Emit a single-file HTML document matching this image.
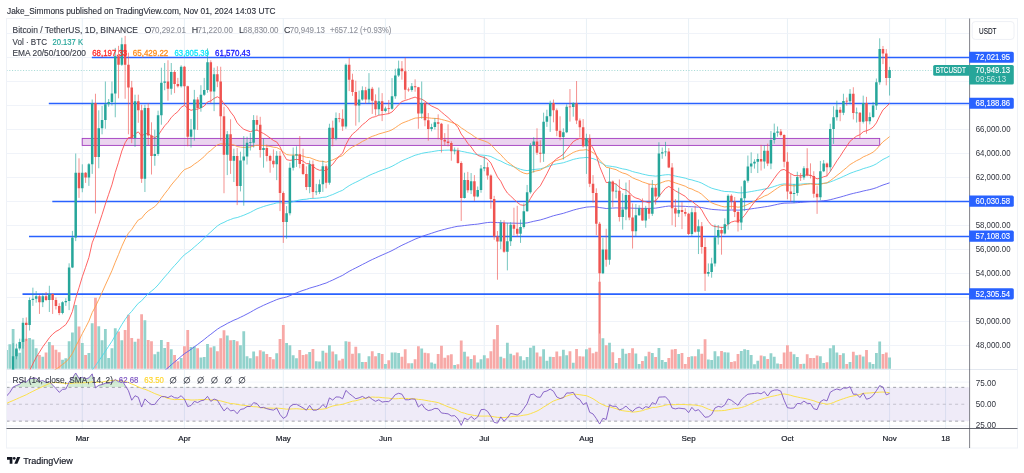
<!DOCTYPE html><html><head><meta charset="utf-8"><title>BTCUSDT</title>
<style>html,body{margin:0;padding:0;background:#fff;}svg{display:block;will-change:transform}text{font-family:"Liberation Sans",sans-serif;}</style></head><body>
<svg width="1024" height="473" viewBox="0 0 1024 473">
<rect x="0" y="0" width="1024" height="473" fill="#ffffff"/>
<defs><clipPath id="mp"><rect x="7.0" y="19.0" width="962.6" height="350.5"/></clipPath>
<clipPath id="rp"><rect x="7.0" y="370.0" width="962.6" height="58.5"/></clipPath>
<clipPath id="rtop"><rect x="0" y="0" width="1024" height="387.35"/></clipPath>
<linearGradient id="gg" x1="0" y1="0" x2="0" y2="1"><stop offset="0" stop-color="#4caf50" stop-opacity="0.30"/><stop offset="1" stop-color="#4caf50" stop-opacity="0.03"/></linearGradient>
</defs>
<rect x="6.5" y="18.5" width="1011.0" height="429.5" fill="#fff" stroke="#eff2f7" stroke-width="1"/>
<path d="M82.30 18.5V428.5M184.44 18.5V428.5M283.30 18.5V428.5M385.44 18.5V428.5M484.29 18.5V428.5M586.43 18.5V428.5M688.58 18.5V428.5M787.43 18.5V428.5M889.57 18.5V428.5M945.59 18.5V428.5" stroke="#e5eef5" stroke-width="0.9" fill="none"/>
<path d="M6.5 345.50H969.6M6.5 321.50H969.6M6.5 297.50H969.6M6.5 273.50H969.6M6.5 249.50H969.6M6.5 225.50H969.6M6.5 201.50H969.6M6.5 177.50H969.6M6.5 153.50H969.6M6.5 129.50H969.6M6.5 105.50H969.6M6.5 81.50H969.6M6.5 57.50H969.6M6.5 33.50H969.6M6.5 382.12H969.6M6.5 425.98H969.6" stroke="#eef2f8" stroke-width="0.9" fill="none"/>
<path d="M6.5 369.5H1017.5" stroke="#e3e8f0" stroke-width="1"/>
<g clip-path="url(#mp)">
<path d="M5.12 368.70h2.80V349.90h-2.80zM8.41 368.70h2.80V344.30h-2.80zM11.71 368.70h2.80V329.10h-2.80zM15.00 368.70h2.80V349.70h-2.80zM18.30 368.70h2.80V352.80h-2.80zM21.59 368.70h2.80V338.70h-2.80zM28.18 368.70h2.80V338.10h-2.80zM31.48 368.70h2.80V339.60h-2.80zM34.77 368.70h2.80V348.30h-2.80zM41.36 368.70h2.80V356.80h-2.80zM47.95 368.70h2.80V342.10h-2.80zM61.13 368.70h2.80V359.70h-2.80zM64.42 368.70h2.80V358.30h-2.80zM67.72 368.70h2.80V341.20h-2.80zM71.01 368.70h2.80V332.45h-2.80zM74.31 368.70h2.80V305.10h-2.80zM80.90 368.70h2.80V343.10h-2.80zM87.49 368.70h2.80V353.10h-2.80zM90.78 368.70h2.80V323.30h-2.80zM97.38 368.70h2.80V326.20h-2.80zM100.67 368.70h2.80V340.30h-2.80zM103.96 368.70h2.80V329.10h-2.80zM107.26 368.70h2.80V358.10h-2.80zM110.55 368.70h2.80V348.30h-2.80zM113.85 368.70h2.80V328.30h-2.80zM120.44 368.70h2.80V340.30h-2.80zM133.62 368.70h2.80V341.80h-2.80zM143.50 368.70h2.80V320.20h-2.80zM153.39 368.70h2.80V354.30h-2.80zM156.68 368.70h2.80V351.80h-2.80zM159.98 368.70h2.80V339.95h-2.80zM163.28 368.70h2.80V348.10h-2.80zM169.86 368.70h2.80V349.30h-2.80zM179.75 368.70h2.80V358.10h-2.80zM189.63 368.70h2.80V347.10h-2.80zM192.93 368.70h2.80V346.60h-2.80zM199.52 368.70h2.80V357.45h-2.80zM202.81 368.70h2.80V357.10h-2.80zM206.11 368.70h2.80V344.10h-2.80zM212.70 368.70h2.80V346.20h-2.80zM225.88 368.70h2.80V335.60h-2.80zM232.47 368.70h2.80V339.95h-2.80zM239.06 368.70h2.80V345.30h-2.80zM242.35 368.70h2.80V331.20h-2.80zM245.65 368.70h2.80V356.20h-2.80zM248.94 368.70h2.80V358.20h-2.80zM252.24 368.70h2.80V351.60h-2.80zM262.12 368.70h2.80V351.60h-2.80zM275.31 368.70h2.80V353.30h-2.80zM285.19 368.70h2.80V343.10h-2.80zM288.49 368.70h2.80V345.30h-2.80zM291.78 368.70h2.80V355.30h-2.80zM295.07 368.70h2.80V358.30h-2.80zM308.25 368.70h2.80V352.10h-2.80zM314.85 368.70h2.80V361.20h-2.80zM318.14 368.70h2.80V361.60h-2.80zM321.44 368.70h2.80V350.80h-2.80zM328.03 368.70h2.80V345.30h-2.80zM334.62 368.70h2.80V354.30h-2.80zM344.50 368.70h2.80V341.20h-2.80zM357.68 368.70h2.80V353.30h-2.80zM360.98 368.70h2.80V362.10h-2.80zM367.57 368.70h2.80V356.20h-2.80zM377.45 368.70h2.80V353.10h-2.80zM384.04 368.70h2.80V364.10h-2.80zM390.63 368.70h2.80V352.45h-2.80zM393.93 368.70h2.80V352.45h-2.80zM397.22 368.70h2.80V353.10h-2.80zM410.40 368.70h2.80V363.30h-2.80zM420.29 368.70h2.80V348.45h-2.80zM430.17 368.70h2.80V362.45h-2.80zM433.47 368.70h2.80V363.70h-2.80zM453.24 368.70h2.80V364.95h-2.80zM463.12 368.70h2.80V351.80h-2.80zM469.71 368.70h2.80V359.10h-2.80zM476.30 368.70h2.80V362.45h-2.80zM479.60 368.70h2.80V359.30h-2.80zM482.89 368.70h2.80V355.30h-2.80zM499.37 368.70h2.80V356.80h-2.80zM505.96 368.70h2.80V342.70h-2.80zM509.25 368.70h2.80V353.70h-2.80zM519.13 368.70h2.80V356.20h-2.80zM522.43 368.70h2.80V360.30h-2.80zM525.73 368.70h2.80V357.10h-2.80zM529.02 368.70h2.80V347.80h-2.80zM532.31 368.70h2.80V345.80h-2.80zM542.20 368.70h2.80V349.30h-2.80zM545.50 368.70h2.80V360.80h-2.80zM548.79 368.70h2.80V356.80h-2.80zM561.97 368.70h2.80V349.70h-2.80zM565.26 368.70h2.80V355.30h-2.80zM571.86 368.70h2.80V362.70h-2.80zM585.03 368.70h2.80V349.30h-2.80zM601.51 368.70h2.80V338.30h-2.80zM608.10 368.70h2.80V342.70h-2.80zM614.69 368.70h2.80V363.10h-2.80zM621.28 368.70h2.80V348.70h-2.80zM624.57 368.70h2.80V353.80h-2.80zM634.46 368.70h2.80V353.60h-2.80zM637.75 368.70h2.80V364.10h-2.80zM644.34 368.70h2.80V356.20h-2.80zM650.93 368.70h2.80V353.10h-2.80zM657.52 368.70h2.80V348.10h-2.80zM660.82 368.70h2.80V359.90h-2.80zM664.12 368.70h2.80V361.90h-2.80zM677.29 368.70h2.80V354.10h-2.80zM690.47 368.70h2.80V356.20h-2.80zM697.06 368.70h2.80V349.30h-2.80zM706.95 368.70h2.80V359.60h-2.80zM710.25 368.70h2.80V359.95h-2.80zM713.54 368.70h2.80V351.20h-2.80zM716.83 368.70h2.80V356.20h-2.80zM723.42 368.70h2.80V352.20h-2.80zM726.72 368.70h2.80V352.45h-2.80zM739.90 368.70h2.80V350.95h-2.80zM743.19 368.70h2.80V349.30h-2.80zM746.49 368.70h2.80V350.10h-2.80zM749.78 368.70h2.80V354.95h-2.80zM753.08 368.70h2.80V364.30h-2.80zM756.38 368.70h2.80V360.80h-2.80zM762.96 368.70h2.80V356.20h-2.80zM769.55 368.70h2.80V353.30h-2.80zM772.85 368.70h2.80V356.80h-2.80zM776.14 368.70h2.80V363.45h-2.80zM792.62 368.70h2.80V354.30h-2.80zM795.91 368.70h2.80V357.10h-2.80zM802.50 368.70h2.80V363.70h-2.80zM818.98 368.70h2.80V356.20h-2.80zM822.27 368.70h2.80V363.10h-2.80zM828.87 368.70h2.80V348.30h-2.80zM832.16 368.70h2.80V345.30h-2.80zM835.45 368.70h2.80V352.45h-2.80zM842.04 368.70h2.80V353.30h-2.80zM848.63 368.70h2.80V362.10h-2.80zM855.22 368.70h2.80V355.30h-2.80zM861.81 368.70h2.80V356.45h-2.80zM868.40 368.70h2.80V362.20h-2.80zM871.70 368.70h2.80V364.10h-2.80zM875.00 368.70h2.80V353.10h-2.80zM878.29 368.70h2.80V341.60h-2.80zM888.17 368.70h2.80V357.45h-2.80z" fill="#92d2cc"/>
<path d="M24.88 368.70h2.80V338.70h-2.80zM38.06 368.70h2.80V354.95h-2.80zM44.66 368.70h2.80V352.45h-2.80zM51.24 368.70h2.80V345.30h-2.80zM54.54 368.70h2.80V349.70h-2.80zM57.84 368.70h2.80V352.20h-2.80zM77.60 368.70h2.80V326.45h-2.80zM84.19 368.70h2.80V354.95h-2.80zM94.08 368.70h2.80V297.70h-2.80zM117.14 368.70h2.80V331.60h-2.80zM123.73 368.70h2.80V329.95h-2.80zM127.03 368.70h2.80V314.70h-2.80zM130.32 368.70h2.80V338.10h-2.80zM136.91 368.70h2.80V338.70h-2.80zM140.21 368.70h2.80V314.30h-2.80zM146.80 368.70h2.80V339.95h-2.80zM150.09 368.70h2.80V341.20h-2.80zM166.57 368.70h2.80V342.10h-2.80zM173.16 368.70h2.80V354.95h-2.80zM176.45 368.70h2.80V361.20h-2.80zM183.04 368.70h2.80V346.20h-2.80zM186.34 368.70h2.80V329.95h-2.80zM196.22 368.70h2.80V348.30h-2.80zM209.41 368.70h2.80V347.45h-2.80zM215.99 368.70h2.80V351.20h-2.80zM219.29 368.70h2.80V338.30h-2.80zM222.59 368.70h2.80V330.20h-2.80zM229.17 368.70h2.80V340.30h-2.80zM235.77 368.70h2.80V341.20h-2.80zM255.53 368.70h2.80V356.20h-2.80zM258.83 368.70h2.80V350.30h-2.80zM265.42 368.70h2.80V354.10h-2.80zM268.72 368.70h2.80V357.10h-2.80zM272.01 368.70h2.80V359.30h-2.80zM278.60 368.70h2.80V339.10h-2.80zM281.90 368.70h2.80V324.95h-2.80zM298.37 368.70h2.80V349.95h-2.80zM301.67 368.70h2.80V354.95h-2.80zM304.96 368.70h2.80V354.30h-2.80zM311.55 368.70h2.80V349.10h-2.80zM324.73 368.70h2.80V352.80h-2.80zM331.32 368.70h2.80V351.60h-2.80zM337.91 368.70h2.80V360.60h-2.80zM341.21 368.70h2.80V358.70h-2.80zM347.80 368.70h2.80V341.80h-2.80zM351.09 368.70h2.80V353.70h-2.80zM354.39 368.70h2.80V346.80h-2.80zM364.27 368.70h2.80V362.10h-2.80zM370.86 368.70h2.80V351.20h-2.80zM374.16 368.70h2.80V356.20h-2.80zM380.75 368.70h2.80V354.10h-2.80zM387.34 368.70h2.80V360.30h-2.80zM400.52 368.70h2.80V356.80h-2.80zM403.81 368.70h2.80V349.30h-2.80zM407.11 368.70h2.80V363.30h-2.80zM413.70 368.70h2.80V359.30h-2.80zM416.99 368.70h2.80V346.20h-2.80zM423.58 368.70h2.80V352.80h-2.80zM426.88 368.70h2.80V353.30h-2.80zM436.76 368.70h2.80V354.10h-2.80zM440.06 368.70h2.80V345.80h-2.80zM443.35 368.70h2.80V357.80h-2.80zM446.65 368.70h2.80V355.30h-2.80zM449.94 368.70h2.80V354.30h-2.80zM456.53 368.70h2.80V364.30h-2.80zM459.83 368.70h2.80V340.60h-2.80zM466.42 368.70h2.80V356.45h-2.80zM473.01 368.70h2.80V355.30h-2.80zM486.19 368.70h2.80V358.30h-2.80zM489.48 368.70h2.80V351.20h-2.80zM492.78 368.70h2.80V339.30h-2.80zM496.07 368.70h2.80V324.95h-2.80zM502.66 368.70h2.80V358.30h-2.80zM512.54 368.70h2.80V355.30h-2.80zM515.84 368.70h2.80V352.45h-2.80zM535.61 368.70h2.80V352.45h-2.80zM538.90 368.70h2.80V356.45h-2.80zM552.09 368.70h2.80V357.10h-2.80zM555.38 368.70h2.80V351.60h-2.80zM558.67 368.70h2.80V356.20h-2.80zM568.56 368.70h2.80V351.20h-2.80zM575.15 368.70h2.80V349.10h-2.80zM578.45 368.70h2.80V356.20h-2.80zM581.74 368.70h2.80V356.45h-2.80zM588.33 368.70h2.80V347.80h-2.80zM591.62 368.70h2.80V353.30h-2.80zM594.92 368.70h2.80V351.80h-2.80zM598.21 368.70h2.80V281.70h-2.80zM604.80 368.70h2.80V345.20h-2.80zM611.39 368.70h2.80V352.20h-2.80zM617.99 368.70h2.80V358.10h-2.80zM627.87 368.70h2.80V353.10h-2.80zM631.16 368.70h2.80V348.20h-2.80zM641.05 368.70h2.80V361.10h-2.80zM647.64 368.70h2.80V351.80h-2.80zM654.23 368.70h2.80V357.00h-2.80zM667.41 368.70h2.80V358.00h-2.80zM670.70 368.70h2.80V349.60h-2.80zM674.00 368.70h2.80V349.00h-2.80zM680.59 368.70h2.80V353.10h-2.80zM683.88 368.70h2.80V364.00h-2.80zM687.18 368.70h2.80V357.10h-2.80zM693.77 368.70h2.80V356.20h-2.80zM700.36 368.70h2.80V353.70h-2.80zM703.65 368.70h2.80V339.30h-2.80zM720.13 368.70h2.80V350.95h-2.80zM730.01 368.70h2.80V362.10h-2.80zM733.31 368.70h2.80V361.20h-2.80zM736.61 368.70h2.80V354.10h-2.80zM759.67 368.70h2.80V355.60h-2.80zM766.26 368.70h2.80V359.10h-2.80zM779.44 368.70h2.80V364.10h-2.80zM782.74 368.70h2.80V352.45h-2.80zM786.03 368.70h2.80V345.30h-2.80zM789.32 368.70h2.80V351.80h-2.80zM799.21 368.70h2.80V364.10h-2.80zM805.80 368.70h2.80V354.30h-2.80zM809.09 368.70h2.80V358.10h-2.80zM812.39 368.70h2.80V358.10h-2.80zM815.68 368.70h2.80V355.60h-2.80zM825.57 368.70h2.80V362.20h-2.80zM838.75 368.70h2.80V354.95h-2.80zM845.34 368.70h2.80V364.10h-2.80zM851.93 368.70h2.80V351.80h-2.80zM858.52 368.70h2.80V354.70h-2.80zM865.11 368.70h2.80V350.10h-2.80zM881.58 368.70h2.80V354.10h-2.80zM884.88 368.70h2.80V352.45h-2.80z" fill="#f7a9a7"/>
<path d="M6.5 70.4H969.6" stroke="#26a69a" stroke-width="0.8" stroke-dasharray="1.1 1.65" opacity="0.55"/>
<rect x="82.2" y="138.4" width="797.5" height="7.0" fill="#9c27b0" fill-opacity="0.2" stroke="#a23bbf" stroke-width="0.9"/>
<path d="M91.8 57.54H969.6" stroke="#2962ff" stroke-width="1.6"/>
<path d="M48.8 103.53H969.6" stroke="#2962ff" stroke-width="1.6"/>
<path d="M52.3 201.43H969.6" stroke="#2962ff" stroke-width="1.6"/>
<path d="M29.0 236.50H969.6" stroke="#2962ff" stroke-width="1.6"/>
<path d="M22.5 294.13H969.6" stroke="#2962ff" stroke-width="1.6"/>
<polyline points="6.52,483.76 9.81,482.70 13.11,481.45 16.40,480.12 19.70,478.75 22.99,477.19 26.28,475.68 29.58,473.93 32.88,472.19 36.17,470.44 39.46,468.77 42.76,467.05 46.05,465.39 49.35,463.68 52.64,462.05 55.94,460.50 59.23,459.03 62.53,457.47 65.82,455.91 69.12,454.04 72.41,451.89 75.71,449.11 79.00,446.51 82.30,443.79 85.59,441.14 88.89,438.38 92.19,435.05 95.48,432.28 98.78,429.26 102.07,426.18 105.36,422.98 108.66,419.78 111.95,416.53 115.25,412.95 118.54,409.48 121.84,405.85 125.13,402.46 128.43,399.32 131.72,396.72 135.02,393.78 138.31,390.96 141.61,388.85 144.91,386.05 148.20,383.56 151.50,381.30 154.79,379.03 158.08,376.41 161.38,373.49 164.68,370.58 167.97,367.78 171.26,364.83 174.56,362.04 177.85,359.30 181.15,356.38 184.44,353.70 187.74,351.54 191.03,349.33 194.33,346.84 197.62,344.46 200.92,341.98 204.21,339.47 207.51,336.71 210.81,334.27 214.10,331.69 217.39,329.20 220.69,327.08 223.99,325.36 227.28,323.46 230.57,321.84 233.87,320.19 237.17,318.86 240.46,317.28 243.75,315.68 247.05,313.96 250.34,312.25 253.64,310.34 256.94,308.49 260.23,306.91 263.52,305.33 266.82,303.85 270.12,302.42 273.41,301.05 276.70,299.60 280.00,298.54 283.30,297.78 286.59,296.94 289.88,295.65 293.18,294.26 296.47,292.87 299.77,291.58 303.06,290.41 306.36,289.38 309.65,288.14 312.95,287.18 316.25,286.23 319.54,285.22 322.83,284.04 326.13,283.03 329.43,281.48 332.72,280.06 336.01,278.45 339.31,276.86 342.61,275.36 345.90,273.27 349.19,271.34 352.49,269.56 355.79,267.93 359.08,266.25 362.38,264.50 365.67,262.86 368.97,261.12 372.26,259.53 375.56,258.03 378.85,256.47 382.14,255.03 385.44,253.57 388.74,252.13 392.03,250.58 395.32,248.84 398.62,247.04 401.92,245.29 405.21,243.75 408.50,242.22 411.80,240.66 415.10,239.14 418.39,237.89 421.69,236.55 424.98,235.39 428.27,234.33 431.57,233.26 434.87,232.16 438.16,231.08 441.45,230.17 444.75,229.29 448.05,228.43 451.34,227.66 454.63,226.89 457.93,226.26 461.23,225.98 464.52,225.52 467.81,225.17 471.11,224.73 474.41,224.45 477.70,224.11 481.00,223.55 484.29,222.99 487.58,222.52 490.88,222.29 494.18,222.43 497.47,222.62 500.76,222.62 504.06,222.91 507.36,223.09 510.65,223.11 513.94,223.16 517.24,223.27 520.53,223.31 523.83,223.19 527.12,222.88 530.42,222.10 533.71,221.30 537.01,220.62 540.30,219.95 543.60,218.98 546.89,217.96 550.19,216.81 553.49,215.75 556.78,214.91 560.07,214.13 563.37,213.32 566.66,212.26 569.96,211.21 573.25,210.13 576.55,209.24 579.85,208.43 583.14,207.81 586.43,207.11 589.73,206.88 593.02,206.74 596.32,206.91 599.61,207.57 602.91,207.99 606.20,208.51 609.50,208.24 612.79,208.07 616.09,207.90 619.38,207.99 622.68,208.00 625.97,207.87 629.27,207.97 632.56,208.20 635.86,208.27 639.15,208.27 642.45,208.39 645.74,208.39 649.04,208.45 652.33,208.24 655.63,208.12 658.92,207.58 662.22,207.03 665.51,206.48 668.81,206.09 672.10,206.11 675.40,206.19 678.69,206.22 681.99,206.28 685.28,206.36 688.58,206.63 691.87,206.69 695.17,206.94 698.46,207.13 701.76,207.53 705.05,208.19 708.35,208.82 711.64,209.37 714.94,209.64 718.23,209.84 721.53,210.08 724.82,210.22 728.12,210.08 731.41,209.99 734.71,210.01 738.00,210.14 741.30,210.02 744.59,209.73 747.89,209.30 751.18,208.84 754.48,208.37 757.77,207.88 761.07,207.42 764.36,206.86 767.66,206.43 770.95,205.77 774.25,205.04 777.54,204.31 780.84,203.62 784.13,203.20 787.43,203.08 790.72,202.99 794.02,202.89 797.31,202.64 800.61,202.39 803.90,202.04 807.20,201.78 810.49,201.52 813.79,201.45 817.08,201.41 820.38,201.11 823.67,200.73 826.97,200.40 830.26,199.69 833.56,198.87 836.85,197.98 840.15,197.13 843.44,196.18 846.74,195.23 850.03,194.22 853.33,193.41 856.62,192.61 859.92,191.91 863.21,191.02 866.51,190.33 869.80,189.60 873.10,188.76 876.39,187.70 879.69,186.32 882.98,185.00 886.28,183.94 889.57,182.80" fill="none" stroke="#5b5bf0" stroke-width="0.9" stroke-linejoin="round"/>
<polyline points="6.52,440.48 9.81,439.24 13.11,437.60 16.40,435.83 19.70,433.97 22.99,431.77 26.28,429.66 29.58,427.09 32.88,424.54 36.17,422.01 39.46,419.64 42.76,417.19 46.05,414.87 49.35,412.47 52.64,410.25 55.94,408.18 59.23,406.30 62.53,404.24 65.82,402.19 69.12,399.53 72.41,396.32 75.71,391.89 79.00,387.86 82.30,383.60 85.59,379.52 88.89,375.26 92.19,369.87 95.48,365.65 98.78,360.95 102.07,356.18 105.36,351.19 108.66,346.26 111.95,341.25 115.25,335.61 118.54,330.24 121.84,324.58 125.13,319.44 128.43,314.84 131.72,311.34 135.02,307.18 138.31,303.28 141.61,300.81 144.91,296.99 148.20,293.80 151.50,291.07 154.79,288.35 158.08,284.93 161.38,280.92 164.68,276.97 167.97,273.25 171.26,269.26 174.56,265.59 177.85,262.04 181.15,258.17 184.44,254.77 187.74,252.43 191.03,249.99 194.33,247.01 197.62,244.26 200.92,241.30 204.21,238.30 207.51,234.82 210.81,231.98 214.10,228.85 217.39,225.94 220.69,223.77 223.99,222.40 227.28,220.65 230.57,219.47 233.87,218.21 237.17,217.57 240.46,216.44 243.75,215.25 247.05,213.81 250.34,212.40 253.64,210.57 256.94,208.87 260.23,207.70 263.52,206.52 266.82,205.52 270.12,204.63 273.41,203.83 276.70,202.88 280.00,202.69 283.30,203.07 286.59,203.27 289.88,202.57 293.18,201.63 296.47,200.70 299.77,199.97 303.06,199.45 306.36,199.21 309.65,198.52 312.95,198.38 316.25,198.26 319.54,197.98 322.83,197.35 326.13,197.06 329.43,195.69 332.72,194.56 336.01,193.05 339.31,191.57 342.61,190.29 345.90,187.80 349.19,185.66 352.49,183.80 355.79,182.25 359.08,180.62 362.38,178.83 365.67,177.25 368.97,175.50 372.26,174.02 375.56,172.74 378.85,171.32 382.14,170.13 385.44,168.91 388.74,167.72 392.03,166.31 395.32,164.51 398.62,162.61 401.92,160.80 405.21,159.40 408.50,158.02 411.80,156.60 415.10,155.22 418.39,154.40 421.69,153.38 424.98,152.73 428.27,152.26 431.57,151.76 434.87,151.18 438.16,150.63 441.45,150.42 444.75,150.24 448.05,150.10 451.34,150.12 454.63,150.13 457.93,150.38 461.23,151.32 464.52,151.89 467.81,152.65 471.11,153.22 474.41,154.07 477.70,154.78 481.00,155.05 484.29,155.30 487.58,155.70 490.88,156.56 494.18,158.14 497.47,159.79 500.76,161.04 504.06,162.83 507.36,164.38 510.65,165.58 513.94,166.83 517.24,168.16 520.53,169.32 523.83,170.15 527.12,170.59 530.42,170.08 533.71,169.52 537.01,169.18 540.30,168.88 543.60,167.95 546.89,166.92 550.19,165.66 553.49,164.56 556.78,163.89 560.07,163.36 563.37,162.74 566.66,161.63 569.96,160.55 573.25,159.42 576.55,158.65 579.85,158.02 583.14,157.79 586.43,157.40 589.73,157.92 593.02,158.62 596.32,159.91 599.61,162.15 602.91,163.88 606.20,165.78 609.50,166.09 612.79,166.59 616.09,167.07 619.38,168.06 622.68,168.88 625.97,169.40 629.27,170.35 632.56,171.56 635.86,172.43 639.15,173.14 642.45,174.07 645.74,174.75 649.04,175.52 652.33,175.77 655.63,176.18 658.92,175.73 662.22,175.26 665.51,174.79 668.81,174.65 672.10,175.31 675.40,176.07 678.69,176.74 681.99,177.44 685.28,178.16 688.58,179.27 691.87,179.92 695.17,180.95 698.46,181.85 701.76,183.14 705.05,184.93 708.35,186.66 711.64,188.18 714.94,189.15 718.23,189.96 721.53,190.82 724.82,191.48 728.12,191.57 731.41,191.76 734.71,192.16 738.00,192.77 741.30,192.88 744.59,192.64 747.89,192.12 751.18,191.55 754.48,190.96 757.77,190.33 761.07,189.76 764.36,188.99 767.66,188.48 770.95,187.52 774.25,186.44 777.54,185.35 780.84,184.35 784.13,183.91 787.43,184.05 790.72,184.25 794.02,184.42 797.31,184.28 800.61,184.14 803.90,183.82 807.20,183.66 810.49,183.51 813.79,183.71 817.08,183.98 820.38,183.73 823.67,183.33 826.97,183.01 830.26,181.94 833.56,180.66 836.85,179.26 840.15,177.94 843.44,176.41 846.74,174.93 850.03,173.32 853.33,172.13 856.62,170.95 859.92,169.98 863.21,168.65 866.51,167.71 869.80,166.71 873.10,165.50 876.39,163.85 879.69,161.58 882.98,159.44 886.28,157.82 889.57,156.09" fill="none" stroke="#4dd9ea" stroke-width="0.9" stroke-linejoin="round"/>
<polyline points="6.52,414.46 9.81,413.02 13.11,410.80 16.40,408.36 19.70,405.75 22.99,402.49 26.28,399.46 29.58,395.55 32.88,391.76 36.17,388.01 39.46,384.65 42.76,381.19 46.05,378.00 49.35,374.70 52.64,371.77 55.94,369.18 59.23,366.99 62.53,364.45 65.82,361.96 69.12,358.26 72.41,353.52 75.71,346.43 79.00,340.23 82.30,333.66 85.59,327.54 88.89,321.14 92.19,312.59 95.48,306.49 98.78,299.50 102.07,292.46 105.36,285.08 108.66,277.90 111.95,270.66 115.25,262.26 118.54,254.51 121.84,246.27 125.13,239.15 128.43,233.20 131.72,229.46 135.02,224.44 138.31,219.96 141.61,218.34 144.91,214.01 148.20,210.93 151.50,208.77 154.79,206.63 158.08,203.05 161.38,198.33 164.68,193.75 167.97,189.63 171.26,185.01 174.56,181.05 177.85,177.33 181.15,172.99 184.44,169.60 187.74,168.31 191.03,166.78 194.33,164.14 197.62,161.94 200.92,159.30 204.21,156.58 207.51,152.88 210.81,150.47 214.10,147.49 217.39,144.90 220.69,143.78 223.99,144.21 227.28,143.82 230.57,144.48 233.87,144.93 237.17,146.53 240.46,147.08 243.75,147.45 247.05,147.26 250.34,147.08 253.64,146.01 256.94,145.18 260.23,145.36 263.52,145.47 266.82,145.88 270.12,146.46 273.41,147.16 276.70,147.50 280.00,149.29 283.30,152.13 286.59,154.53 289.88,155.05 293.18,155.07 296.47,155.03 299.77,155.38 303.06,156.11 306.36,157.32 309.65,157.60 312.95,158.94 316.25,160.23 319.54,161.18 322.83,161.38 326.13,162.21 329.43,160.86 332.72,159.99 336.01,158.35 339.31,156.79 342.61,155.61 345.90,152.04 349.19,149.20 352.49,146.96 355.79,145.34 359.08,143.54 362.38,141.45 365.67,139.81 368.97,137.80 372.26,136.35 375.56,135.29 378.85,133.95 382.14,133.05 385.44,132.09 388.74,131.18 392.03,129.81 395.32,127.69 398.62,125.37 401.92,123.25 405.21,121.93 408.50,120.68 411.80,119.33 415.10,118.07 418.39,117.89 421.69,117.31 424.98,117.43 428.27,117.88 431.57,118.24 434.87,118.40 438.16,118.61 441.45,119.44 444.75,120.30 448.05,121.20 451.34,122.37 454.63,123.48 457.93,125.03 461.23,127.89 464.52,129.93 467.81,132.29 471.11,134.21 474.41,136.65 477.70,138.74 481.00,139.91 484.29,140.98 487.58,142.34 490.88,144.56 494.18,148.16 497.47,151.83 500.76,154.61 504.06,158.41 507.36,161.66 510.65,164.13 513.94,166.67 517.24,169.30 520.53,171.57 523.83,173.12 527.12,173.87 530.42,172.74 533.71,171.51 537.01,170.78 540.30,170.11 543.60,168.22 546.89,166.18 550.19,163.71 553.49,161.61 556.78,160.40 560.07,159.48 563.37,158.41 566.66,156.39 569.96,154.45 573.25,152.44 576.55,151.19 579.85,150.25 583.14,150.09 586.43,149.62 589.73,150.96 593.02,152.61 596.32,155.40 599.61,160.02 602.91,163.53 606.20,167.30 609.50,167.86 612.79,168.79 616.09,169.65 619.38,171.51 622.68,173.00 625.97,173.86 629.27,175.57 632.56,177.76 635.86,179.23 639.15,180.37 642.45,181.94 645.74,182.98 649.04,184.18 652.33,184.32 655.63,184.80 658.92,183.57 662.22,182.34 665.51,181.13 668.81,180.60 672.10,181.69 675.40,182.93 678.69,183.99 681.99,185.09 685.28,186.22 688.58,188.10 691.87,189.04 695.17,190.72 698.46,192.12 701.76,194.27 705.05,197.39 708.35,200.32 711.64,202.79 714.94,204.14 718.23,205.16 721.53,206.26 724.82,206.97 728.12,206.53 731.41,206.33 734.71,206.56 738.00,207.19 741.30,206.84 744.59,205.81 747.89,204.27 751.18,202.68 754.48,201.07 757.77,199.42 761.07,197.94 764.36,196.09 767.66,194.81 770.95,192.66 774.25,190.31 777.54,188.00 780.84,185.92 784.13,184.98 787.43,185.23 790.72,185.57 794.02,185.87 797.31,185.51 800.61,185.20 803.90,184.53 807.20,184.17 810.49,183.85 813.79,184.24 817.08,184.75 820.38,184.23 823.67,183.42 826.97,182.78 830.26,180.68 833.56,178.19 836.85,175.50 840.15,173.04 843.44,170.21 846.74,167.51 850.03,164.62 853.33,162.60 856.62,160.64 859.92,159.12 863.21,156.92 866.51,155.52 869.80,154.01 873.10,152.11 876.39,149.37 879.69,145.43 882.98,141.83 886.28,139.33 889.57,136.61" fill="none" stroke="#ff9d45" stroke-width="0.9" stroke-linejoin="round"/>
<polyline points="6.52,407.60 9.81,404.77 13.11,400.15 16.40,395.23 19.70,390.15 22.99,383.73 26.28,378.15 29.58,370.69 32.88,363.84 36.17,357.41 39.46,352.16 42.76,346.84 46.05,342.37 49.35,337.75 52.64,334.15 55.94,331.46 59.23,329.71 62.53,327.10 65.82,324.62 69.12,319.18 72.41,311.40 75.71,298.19 79.00,287.73 82.30,276.77 85.59,267.32 88.89,257.51 92.19,242.80 95.48,234.64 98.78,224.51 102.07,214.55 105.36,204.05 108.66,194.32 111.95,184.72 115.25,172.49 118.54,162.22 121.84,150.99 125.13,142.77 128.43,137.51 131.72,137.55 135.02,134.09 138.31,131.83 141.61,136.29 144.91,133.59 148.20,133.77 151.50,135.88 154.79,137.61 158.08,135.49 161.38,130.46 164.68,125.80 167.97,122.27 171.26,117.47 174.56,114.27 177.85,111.61 181.15,107.34 184.44,105.33 187.74,108.32 191.03,110.34 194.33,109.31 197.62,109.17 200.92,107.79 204.21,106.09 207.51,101.92 210.81,100.92 214.10,98.39 217.39,96.78 220.69,98.64 223.99,103.98 227.28,106.87 230.57,111.99 233.87,116.17 237.17,122.81 240.46,126.40 243.75,129.26 247.05,130.54 250.34,131.69 253.64,130.57 256.94,130.01 260.23,131.91 263.52,133.45 266.82,135.59 270.12,137.98 273.41,140.48 276.70,141.94 280.00,146.81 283.30,153.96 286.59,159.61 289.88,160.38 293.18,159.92 296.47,159.38 299.77,159.81 303.06,161.15 306.36,163.62 309.65,163.69 312.95,166.37 316.25,168.81 319.54,170.27 322.83,169.90 326.13,171.11 329.43,166.98 332.72,164.29 336.01,159.89 339.31,155.97 342.61,153.16 345.90,144.74 349.19,138.54 352.49,134.10 355.79,131.39 359.08,128.35 362.38,124.73 365.67,122.32 368.97,119.12 372.26,117.37 375.56,116.60 378.85,115.15 382.14,114.75 385.44,114.16 388.74,113.65 392.03,112.00 395.32,108.53 398.62,104.72 401.92,101.54 405.21,100.42 408.50,99.42 411.80,98.17 415.10,97.12 418.39,98.68 421.69,99.10 424.98,101.12 428.27,103.78 431.57,106.00 434.87,107.55 438.16,109.09 441.45,112.01 444.75,114.82 448.05,117.51 451.34,120.72 454.63,123.55 457.93,127.32 461.23,134.04 464.52,138.41 467.81,143.34 471.11,146.95 474.41,151.67 477.70,155.31 481.00,156.57 484.29,157.59 487.58,159.31 490.88,163.08 494.18,170.07 497.47,176.88 500.76,181.25 504.06,187.95 507.36,193.03 510.65,196.04 513.94,199.16 517.24,202.46 520.53,204.80 523.83,205.41 527.12,204.15 530.42,198.53 533.71,193.10 537.01,189.26 540.30,185.87 543.60,179.77 546.89,173.73 550.19,167.00 553.49,161.60 556.78,158.66 560.07,156.59 563.37,154.27 566.66,149.74 569.96,145.68 573.25,141.63 576.55,139.61 579.85,138.43 583.14,139.18 586.43,139.08 589.73,143.33 593.02,148.07 596.32,155.28 599.61,166.51 602.91,174.42 606.20,182.54 609.50,182.44 612.79,183.30 616.09,184.01 619.38,187.16 622.68,189.29 625.97,189.84 629.27,192.47 632.56,196.16 635.86,197.98 639.15,198.97 642.45,201.02 645.74,201.71 649.04,202.86 652.33,201.42 655.63,200.94 658.92,196.43 662.22,192.22 665.51,188.34 668.81,186.36 672.10,188.45 675.40,190.84 678.69,192.65 681.99,194.50 685.28,196.35 688.58,199.93 691.87,201.11 695.17,204.03 698.46,206.15 701.76,210.05 705.05,216.12 708.35,221.45 711.64,225.44 714.94,226.56 718.23,226.89 721.53,227.51 724.82,227.21 728.12,224.21 731.41,222.05 734.71,221.10 738.00,221.24 741.30,219.05 744.59,215.40 747.89,210.74 751.18,206.25 754.48,202.02 757.77,197.92 761.07,194.46 764.36,190.29 767.66,187.75 770.95,183.20 774.25,178.39 777.54,173.93 780.84,170.21 784.13,169.41 787.43,171.50 790.72,173.64 794.02,175.49 797.31,175.63 800.61,175.81 803.90,175.08 807.20,175.10 810.49,175.19 813.79,176.97 817.08,178.90 820.38,178.18 823.67,176.79 826.97,175.88 830.26,171.42 833.56,166.26 836.85,160.87 840.15,156.29 843.44,151.02 846.74,146.28 850.03,141.28 853.33,138.59 856.62,136.12 859.92,134.76 863.21,131.75 866.51,130.74 869.80,129.43 873.10,127.16 876.39,122.88 879.69,115.85 882.98,109.92 886.28,106.88 889.57,103.38" fill="none" stroke="#ff5252" stroke-width="0.9" stroke-linejoin="round"/>
<path d="M6.52 388.70V407.90M9.81 374.30V389.90M13.11 343.10V377.90M16.40 343.70V359.30M19.70 338.66V350.54M22.99 317.90V348.62M29.58 297.50V330.50M32.88 287.66V305.90M36.17 291.02V302.66M42.76 293.30V307.10M49.35 285.74V312.02M62.53 301.34V314.30M65.82 298.22V305.90M69.12 263.30V310.10M72.41 230.90V268.10M75.71 153.50V241.10M82.30 164.30V192.26M88.89 163.10V185.90M92.19 99.50V173.90M98.78 110.30V168.26M102.07 105.98V134.30M105.36 81.50V128.78M108.66 99.02V106.70M111.95 81.50V105.50M115.25 47.90V117.26M121.84 37.70V65.90M135.02 94.70V146.90M144.91 104.78V192.02M154.79 129.74V165.74M158.08 110.66V155.90M161.38 67.70V124.70M164.68 63.02V90.26M171.26 63.02V94.70M181.15 65.30V87.50M191.03 118.94V147.50M194.33 89.90V140.66M200.92 85.22V111.74M204.21 77.90V95.90M207.51 48.38V92.78M214.10 67.70V111.14M227.28 131.06V175.10M233.87 148.70V182.06M240.46 151.70V191.42M243.75 136.10V205.70M247.05 136.70V164.54M250.34 133.10V150.50M253.64 115.10V147.50M263.52 138.62V167.66M276.70 151.10V180.14M286.59 206.06V238.70M289.88 162.62V215.42M293.18 147.50V170.54M296.47 146.30V166.94M309.65 160.46V193.22M316.25 183.86V195.14M319.54 179.54V193.94M322.83 160.70V191.90M329.43 123.74V184.70M336.01 112.46V140.30M345.90 63.50V128.78M359.08 90.62V122.30M362.38 86.30V100.70M368.97 73.10V103.10M378.85 87.50V115.10M385.44 106.70V112.22M392.03 78.14V109.70M395.32 68.78V98.78M398.62 60.62V76.94M411.80 83.06V91.70M421.69 81.50V118.70M431.57 123.74V131.30M434.87 118.10V129.50M454.63 147.50V154.34M464.52 172.70V198.50M471.11 173.06V194.06M477.70 186.50V197.30M481.00 165.02V192.74M484.29 156.26V171.26M500.76 219.98V249.14M507.36 222.74V270.38M510.65 222.14V246.02M520.53 219.50V242.90M523.83 203.42V228.50M527.12 184.94V211.70M530.42 143.06V193.70M533.71 137.30V172.70M543.60 112.70V161.90M546.89 109.70V126.86M550.19 100.70V131.90M563.37 128.30V159.50M566.66 104.30V133.10M573.25 102.26V116.66M586.43 133.70V173.90M602.91 237.74V274.10M609.50 168.14V264.74M616.09 183.74V198.38M622.68 193.34V229.58M625.97 182.54V220.22M635.86 204.02V235.94M639.15 205.22V215.90M645.74 205.82V227.78M652.33 180.02V215.90M658.92 142.22V197.30M662.22 147.50V158.78M665.51 141.86V156.26M678.69 187.70V217.10M691.87 208.22V235.94M698.46 219.50V254.06M708.35 263.42V276.50M711.64 257.78V277.70M714.94 224.54V266.54M718.23 225.02V244.58M724.82 218.30V234.50M728.12 194.30V229.70M741.30 186.38V230.06M744.59 179.90V211.10M747.89 155.54V182.66M751.18 152.30V173.06M754.48 159.26V168.62M757.77 153.62V173.06M764.36 145.46V168.62M770.95 131.06V169.22M774.25 123.62V143.66M777.54 126.50V136.70M794.02 183.86V203.06M797.31 171.74V195.74M803.90 166.22V179.78M820.38 160.94V200.30M823.67 160.10V172.10M830.26 123.74V171.50M833.56 106.22V143.90M836.85 100.70V120.62M843.44 93.74V115.10M850.03 89.06V104.30M856.62 107.54V122.54M863.21 95.66V123.50M869.80 112.46V124.34M873.10 101.90V118.10M876.39 78.50V109.94M879.69 38.30V84.74M889.57 66.86V95.54" stroke="#26a69a" stroke-width="0.75" fill="none" opacity="0.85"/>
<path d="M5.27 389.90h2.50V404.30h-2.50zM8.56 377.90h2.50V389.90h-2.50zM11.86 356.30h2.50V377.90h-2.50zM15.15 348.50h2.50V356.30h-2.50zM18.45 341.90h2.50V348.50h-2.50zM21.74 322.70h2.50V341.90h-2.50zM28.33 299.90h2.50V325.10h-2.50zM31.62 298.70h2.50V299.90h-2.50zM34.92 296.30h2.50V298.70h-2.50zM41.51 296.30h2.50V302.30h-2.50zM48.10 293.90h2.50V299.90h-2.50zM61.28 302.30h2.50V313.10h-2.50zM64.57 301.10h2.50V302.30h-2.50zM67.87 267.50h2.50V301.10h-2.50zM71.16 237.50h2.50V267.50h-2.50zM74.46 172.70h2.50V237.50h-2.50zM81.05 172.70h2.50V188.30h-2.50zM87.64 164.30h2.50V177.50h-2.50zM90.94 103.10h2.50V164.30h-2.50zM97.53 128.30h2.50V157.10h-2.50zM100.82 119.90h2.50V128.30h-2.50zM104.11 104.30h2.50V119.90h-2.50zM107.41 101.90h2.50V104.30h-2.50zM110.70 93.50h2.50V101.90h-2.50zM114.00 56.30h2.50V93.50h-2.50zM120.59 44.30h2.50V64.70h-2.50zM133.77 101.30h2.50V137.90h-2.50zM143.66 107.90h2.50V178.70h-2.50zM153.54 154.10h2.50V155.90h-2.50zM156.83 115.34h2.50V154.10h-2.50zM160.13 82.70h2.50V115.34h-2.50zM163.43 81.50h2.50V82.70h-2.50zM170.01 71.90h2.50V88.70h-2.50zM179.90 66.74h2.50V86.30h-2.50zM189.78 129.50h2.50V136.70h-2.50zM193.08 99.50h2.50V129.50h-2.50zM199.67 94.70h2.50V107.90h-2.50zM202.96 89.90h2.50V94.70h-2.50zM206.26 62.30h2.50V89.90h-2.50zM212.85 74.30h2.50V91.46h-2.50zM226.03 134.30h2.50V154.70h-2.50zM232.62 155.90h2.50V160.70h-2.50zM239.21 160.46h2.50V185.90h-2.50zM242.50 156.38h2.50V160.46h-2.50zM245.80 142.70h2.50V156.38h-2.50zM249.09 142.30h2.50V143.10h-2.50zM252.39 119.90h2.50V142.70h-2.50zM262.27 148.10h2.50V149.90h-2.50zM275.45 155.78h2.50V164.30h-2.50zM285.34 213.26h2.50V221.90h-2.50zM288.63 167.66h2.50V213.26h-2.50zM291.93 155.54h2.50V167.66h-2.50zM295.22 154.22h2.50V155.54h-2.50zM308.40 164.30h2.50V187.10h-2.50zM315.00 191.50h2.50V192.30h-2.50zM318.29 184.22h2.50V191.90h-2.50zM321.58 166.34h2.50V184.22h-2.50zM328.18 127.70h2.50V182.66h-2.50zM334.76 118.10h2.50V138.74h-2.50zM344.65 64.70h2.50V126.50h-2.50zM357.83 99.50h2.50V105.62h-2.50zM361.12 90.26h2.50V99.50h-2.50zM367.72 88.70h2.50V99.50h-2.50zM377.60 101.30h2.50V109.34h-2.50zM384.19 108.50h2.50V111.02h-2.50zM390.78 96.26h2.50V108.86h-2.50zM394.07 75.62h2.50V96.26h-2.50zM397.37 68.54h2.50V75.62h-2.50zM410.55 86.30h2.50V89.90h-2.50zM420.44 103.10h2.50V113.54h-2.50zM430.32 127.10h2.50V129.02h-2.50zM433.62 122.30h2.50V127.10h-2.50zM453.38 150.46h2.50V151.26h-2.50zM463.27 179.90h2.50V197.90h-2.50zM469.86 181.22h2.50V190.22h-2.50zM476.45 189.98h2.50V196.46h-2.50zM479.75 168.50h2.50V189.98h-2.50zM483.04 167.30h2.50V168.50h-2.50zM499.51 222.74h2.50V241.58h-2.50zM506.11 241.22h2.50V251.66h-2.50zM509.40 224.66h2.50V241.22h-2.50zM519.28 227.06h2.50V233.78h-2.50zM522.58 211.22h2.50V227.06h-2.50zM525.88 192.14h2.50V211.22h-2.50zM529.17 145.10h2.50V192.14h-2.50zM532.46 141.50h2.50V145.10h-2.50zM542.35 121.82h2.50V153.74h-2.50zM545.64 116.30h2.50V121.82h-2.50zM548.94 103.10h2.50V116.30h-2.50zM562.12 132.26h2.50V136.94h-2.50zM565.41 106.70h2.50V132.26h-2.50zM572.00 103.22h2.50V107.06h-2.50zM585.18 138.14h2.50V146.30h-2.50zM601.66 249.50h2.50V273.26h-2.50zM608.25 181.46h2.50V259.70h-2.50zM614.84 190.70h2.50V191.54h-2.50zM621.43 209.54h2.50V217.10h-2.50zM624.72 195.02h2.50V209.54h-2.50zM634.61 215.30h2.50V231.26h-2.50zM637.90 208.34h2.50V215.30h-2.50zM644.49 208.34h2.50V220.46h-2.50zM651.08 187.70h2.50V213.74h-2.50zM657.67 153.50h2.50V196.46h-2.50zM660.97 152.30h2.50V153.50h-2.50zM664.26 151.46h2.50V152.30h-2.50zM677.44 209.90h2.50V213.50h-2.50zM690.62 212.30h2.50V234.02h-2.50zM697.21 226.34h2.50V231.74h-2.50zM707.10 272.06h2.50V273.74h-2.50zM710.39 263.42h2.50V272.06h-2.50zM713.69 237.14h2.50V263.42h-2.50zM716.98 230.06h2.50V237.14h-2.50zM723.57 224.30h2.50V233.42h-2.50zM726.87 195.74h2.50V224.30h-2.50zM740.05 198.26h2.50V222.62h-2.50zM743.34 180.74h2.50V198.26h-2.50zM746.64 166.46h2.50V180.74h-2.50zM749.93 163.58h2.50V166.46h-2.50zM753.23 161.78h2.50V163.58h-2.50zM756.52 159.02h2.50V161.78h-2.50zM763.11 150.74h2.50V161.54h-2.50zM769.70 139.94h2.50V163.58h-2.50zM773.00 132.74h2.50V139.94h-2.50zM776.29 131.54h2.50V132.74h-2.50zM792.77 193.10h2.50V193.94h-2.50zM796.06 176.90h2.50V193.10h-2.50zM802.65 168.14h2.50V177.50h-2.50zM819.13 171.26h2.50V197.30h-2.50zM822.42 163.58h2.50V171.26h-2.50zM829.01 129.02h2.50V167.30h-2.50zM832.31 117.26h2.50V129.02h-2.50zM835.60 109.70h2.50V117.26h-2.50zM842.19 100.94h2.50V112.70h-2.50zM848.78 93.74h2.50V101.30h-2.50zM855.37 112.48h2.50V113.28h-2.50zM861.96 103.10h2.50V121.82h-2.50zM868.55 116.90h2.50V121.22h-2.50zM871.85 105.62h2.50V116.90h-2.50zM875.14 82.22h2.50V105.62h-2.50zM878.44 49.10h2.50V82.22h-2.50zM888.32 70.10h2.50V78.02h-2.50z" fill="#26a69a"/>
<path d="M26.28 317.42V341.06M39.46 295.10V313.94M46.05 291.98V301.10M52.64 293.30V313.94M55.94 297.50V309.50M59.23 303.26V315.14M79.00 158.30V197.90M85.59 172.10V182.90M95.48 93.74V213.50M118.54 45.86V98.30M125.13 35.90V98.78M128.43 52.70V134.30M131.72 80.90V143.18M138.31 94.70V122.78M141.61 104.78V182.90M148.20 103.10V145.10M151.50 122.30V174.50M167.97 60.26V100.70M174.56 70.22V93.14M177.85 77.90V87.50M184.44 65.90V105.50M187.74 85.70V146.30M197.62 97.10V129.98M210.81 60.26V103.10M217.39 66.26V87.14M220.69 66.74V140.54M223.99 106.70V193.22M230.57 119.30V173.90M237.17 147.98V205.10M256.94 115.46V131.06M260.23 116.78V157.58M266.82 144.50V161.42M270.12 154.70V172.70M273.41 149.30V167.66M280.00 151.10V211.10M283.30 191.42V242.90M299.77 136.10V168.26M303.06 148.70V175.10M306.36 166.34V190.10M312.95 160.46V198.26M326.13 164.30V188.30M332.72 120.62V146.30M339.31 113.06V122.30M342.61 109.34V130.94M349.19 58.10V91.10M352.49 73.70V95.90M355.79 80.66V125.66M365.67 86.90V103.70M372.26 86.90V113.90M375.56 94.34V115.58M382.14 93.14V121.10M388.74 99.98V113.90M401.92 61.10V79.70M405.21 57.74V99.50M408.50 87.50V91.70M415.10 79.34V91.70M418.39 86.90V128.78M424.98 101.90V126.26M428.27 113.06V140.66M438.16 114.38V139.34M441.45 122.90V152.54M444.75 133.10V145.58M448.05 124.34V146.30M451.34 141.26V160.70M457.93 147.74V163.70M461.23 161.30V220.94M467.81 171.86V192.74M474.41 175.10V200.90M487.58 162.50V179.66M490.88 174.38V208.70M494.18 195.86V239.78M497.47 231.02V279.74M504.06 220.22V252.86M513.94 207.74V235.46M517.24 205.82V236.66M537.01 128.30V154.94M540.30 140.30V162.50M553.49 99.50V122.30M556.78 108.50V136.22M560.07 116.30V140.30M569.96 89.06V121.58M576.55 81.02V124.10M579.85 118.46V137.54M583.14 119.06V147.50M589.73 134.30V187.10M593.02 175.10V202.70M596.32 188.30V235.22M599.61 221.90V333.50M606.20 228.74V266.66M612.79 180.50V207.14M619.38 179.42V221.54M629.27 180.02V220.22M632.56 203.42V248.54M642.45 198.38V220.70M649.04 183.74V218.78M655.63 184.70V204.62M668.81 148.10V168.14M672.10 163.10V225.26M675.40 199.10V227.06M681.99 202.10V229.10M685.28 208.22V216.38M688.58 212.90V235.10M695.17 205.70V232.70M701.76 222.02V253.70M705.05 237.74V290.90M721.53 226.70V254.66M731.41 194.30V208.94M734.71 197.06V217.10M738.00 211.10V231.50M761.07 144.86V170.54M767.66 143.66V166.10M780.84 129.02V136.46M784.13 134.30V167.42M787.43 152.30V199.22M790.72 173.90V201.50M800.61 172.94V180.98M807.20 148.22V176.30M810.49 163.34V178.46M813.79 171.26V197.78M817.08 186.14V213.86M826.97 162.50V176.30M840.15 106.94V121.22M846.74 97.46V105.62M853.33 87.26V119.42M859.92 112.10V138.14M866.51 96.86V133.70M882.98 45.98V64.10M886.28 49.10V85.34" stroke="#ef5350" stroke-width="0.75" fill="none" opacity="0.85"/>
<path d="M25.03 322.70h2.50V325.10h-2.50zM38.21 296.30h2.50V302.30h-2.50zM44.80 296.30h2.50V299.90h-2.50zM51.39 293.90h2.50V299.90h-2.50zM54.69 299.90h2.50V305.90h-2.50zM57.98 305.90h2.50V313.10h-2.50zM77.75 172.70h2.50V188.30h-2.50zM84.34 172.70h2.50V177.50h-2.50zM94.23 103.10h2.50V157.10h-2.50zM117.29 56.30h2.50V64.70h-2.50zM123.88 44.30h2.50V64.70h-2.50zM127.18 64.70h2.50V87.50h-2.50zM130.47 87.50h2.50V137.90h-2.50zM137.06 101.30h2.50V110.30h-2.50zM140.36 110.30h2.50V178.70h-2.50zM146.95 107.90h2.50V135.50h-2.50zM150.25 135.50h2.50V155.90h-2.50zM166.72 81.50h2.50V88.70h-2.50zM173.31 71.90h2.50V83.90h-2.50zM176.60 83.90h2.50V86.30h-2.50zM183.19 66.74h2.50V86.30h-2.50zM186.49 86.30h2.50V136.70h-2.50zM196.38 99.50h2.50V107.90h-2.50zM209.56 62.30h2.50V91.46h-2.50zM216.14 74.30h2.50V81.50h-2.50zM219.44 81.50h2.50V116.30h-2.50zM222.74 116.30h2.50V154.70h-2.50zM229.32 134.30h2.50V160.70h-2.50zM235.92 155.90h2.50V185.90h-2.50zM255.69 119.90h2.50V124.70h-2.50zM258.98 124.70h2.50V149.90h-2.50zM265.57 148.10h2.50V155.90h-2.50zM268.87 155.90h2.50V160.70h-2.50zM272.16 160.70h2.50V164.30h-2.50zM278.75 155.78h2.50V193.10h-2.50zM282.05 193.10h2.50V221.90h-2.50zM298.52 154.22h2.50V163.94h-2.50zM301.81 163.94h2.50V173.90h-2.50zM305.11 173.90h2.50V187.10h-2.50zM311.70 164.30h2.50V191.90h-2.50zM324.88 166.34h2.50V182.66h-2.50zM331.47 127.70h2.50V138.74h-2.50zM338.06 118.00h2.50V118.80h-2.50zM341.36 118.70h2.50V126.50h-2.50zM347.94 64.70h2.50V79.70h-2.50zM351.24 79.70h2.50V91.94h-2.50zM354.54 91.94h2.50V105.62h-2.50zM364.42 90.26h2.50V99.50h-2.50zM371.01 88.70h2.50V100.70h-2.50zM374.31 100.70h2.50V109.34h-2.50zM380.89 101.30h2.50V111.02h-2.50zM387.49 108.28h2.50V109.08h-2.50zM400.67 68.54h2.50V71.30h-2.50zM403.96 71.30h2.50V89.78h-2.50zM407.25 89.44h2.50V90.24h-2.50zM413.85 86.30h2.50V87.14h-2.50zM417.14 87.14h2.50V113.54h-2.50zM423.73 103.10h2.50V120.26h-2.50zM427.02 120.26h2.50V129.02h-2.50zM436.91 122.30h2.50V123.74h-2.50zM440.20 123.74h2.50V139.70h-2.50zM443.50 139.70h2.50V141.50h-2.50zM446.80 141.50h2.50V143.06h-2.50zM450.09 143.06h2.50V151.22h-2.50zM456.68 150.50h2.50V163.10h-2.50zM459.98 163.10h2.50V197.90h-2.50zM466.56 179.90h2.50V190.22h-2.50zM473.16 181.22h2.50V196.46h-2.50zM486.33 167.30h2.50V175.58h-2.50zM489.63 175.58h2.50V198.98h-2.50zM492.93 198.98h2.50V236.42h-2.50zM496.22 236.42h2.50V241.58h-2.50zM502.81 222.74h2.50V251.66h-2.50zM512.69 224.66h2.50V228.86h-2.50zM515.99 228.86h2.50V233.78h-2.50zM535.76 141.50h2.50V152.78h-2.50zM539.05 152.78h2.50V153.74h-2.50zM552.24 103.10h2.50V110.30h-2.50zM555.53 110.30h2.50V130.70h-2.50zM558.82 130.70h2.50V136.94h-2.50zM568.71 106.48h2.50V107.28h-2.50zM575.30 103.22h2.50V120.38h-2.50zM578.60 120.38h2.50V127.22h-2.50zM581.89 127.22h2.50V146.30h-2.50zM588.48 138.14h2.50V183.74h-2.50zM591.77 183.74h2.50V193.10h-2.50zM595.07 193.10h2.50V223.70h-2.50zM598.36 223.70h2.50V273.26h-2.50zM604.95 249.50h2.50V259.70h-2.50zM611.54 181.46h2.50V191.54h-2.50zM618.13 190.70h2.50V217.10h-2.50zM628.02 195.02h2.50V217.46h-2.50zM631.31 217.46h2.50V231.26h-2.50zM641.20 208.34h2.50V220.46h-2.50zM647.79 208.34h2.50V213.74h-2.50zM654.38 187.70h2.50V196.46h-2.50zM667.56 151.46h2.50V167.54h-2.50zM670.85 167.54h2.50V208.34h-2.50zM674.15 208.34h2.50V213.50h-2.50zM680.74 209.90h2.50V212.06h-2.50zM684.03 212.06h2.50V213.86h-2.50zM687.33 213.86h2.50V234.02h-2.50zM693.92 212.30h2.50V231.74h-2.50zM700.51 226.34h2.50V247.10h-2.50zM703.80 247.10h2.50V273.74h-2.50zM720.28 230.06h2.50V233.42h-2.50zM730.16 195.74h2.50V201.50h-2.50zM733.46 201.50h2.50V212.06h-2.50zM736.75 212.06h2.50V222.62h-2.50zM759.82 159.02h2.50V161.54h-2.50zM766.41 150.74h2.50V163.58h-2.50zM779.59 131.54h2.50V134.90h-2.50zM782.88 134.90h2.50V161.78h-2.50zM786.18 161.78h2.50V191.42h-2.50zM789.47 191.42h2.50V193.94h-2.50zM799.36 176.80h2.50V177.60h-2.50zM805.95 168.14h2.50V175.34h-2.50zM809.24 175.30h2.50V176.10h-2.50zM812.54 176.06h2.50V193.82h-2.50zM815.83 193.82h2.50V197.30h-2.50zM825.72 163.58h2.50V167.30h-2.50zM838.90 109.70h2.50V112.70h-2.50zM845.49 100.72h2.50V101.52h-2.50zM852.08 93.74h2.50V113.06h-2.50zM858.67 112.70h2.50V121.82h-2.50zM865.26 103.10h2.50V121.22h-2.50zM881.73 49.10h2.50V53.54h-2.50zM885.03 53.54h2.50V78.02h-2.50z" fill="#ef5350"/>
</g>
<g clip-path="url(#rp)">
<rect x="6.5" y="387.35" width="963.1" height="33.80" fill="#7e57c2" fill-opacity="0.12"/>
<path d="M6.5 387.35H967.6" stroke="#787b86" stroke-width="0.9" stroke-dasharray="3 3.2" opacity="0.75"/>
<path d="M6.5 404.25H967.6" stroke="#787b86" stroke-width="0.9" stroke-dasharray="3 3.2" opacity="0.4"/>
<path d="M6.5 421.15H967.6" stroke="#787b86" stroke-width="0.9" stroke-dasharray="3 3.2" opacity="0.75"/>
<g clip-path="url(#rtop)"><polygon points="6.52,387.35 6.52,396.17 9.81,392.42 13.11,387.09 16.40,385.49 19.70,384.20 22.99,380.94 26.28,382.21 29.58,378.58 32.88,378.43 36.17,378.11 39.46,381.49 42.76,380.50 46.05,382.59 49.35,381.48 52.64,385.04 55.94,388.45 59.23,392.34 62.53,389.38 65.82,389.06 69.12,382.07 72.41,378.08 75.71,372.99 79.00,378.56 82.30,377.31 85.59,379.00 88.89,377.86 92.19,373.86 95.48,387.89 98.78,385.30 102.07,384.59 105.36,383.30 108.66,383.10 111.95,382.38 115.25,379.52 118.54,381.73 121.84,380.16 125.13,385.39 128.43,390.69 131.72,400.23 135.02,395.72 138.31,397.26 141.61,407.04 144.91,398.88 148.20,402.24 151.50,404.60 154.79,404.39 158.08,399.95 161.38,396.66 164.68,396.55 167.97,397.63 171.26,395.79 174.56,397.72 177.85,398.12 181.15,395.71 184.44,399.12 187.74,406.55 191.03,405.50 194.33,401.34 197.62,402.60 200.92,400.77 204.21,400.09 207.51,396.38 210.81,401.38 214.10,399.04 217.39,400.28 220.69,405.82 223.99,410.89 227.28,407.64 230.57,410.94 233.87,410.14 237.17,413.74 240.46,409.45 243.75,408.77 247.05,406.50 250.34,406.50 253.64,402.68 256.94,403.52 260.23,407.71 263.52,407.37 266.82,408.68 270.12,409.50 273.41,410.14 276.70,408.11 280.00,414.48 283.30,418.36 286.59,416.23 289.88,406.67 293.18,404.53 296.47,404.29 299.77,406.08 303.06,407.90 306.36,410.22 309.65,405.37 312.95,410.14 316.25,410.14 319.54,408.40 322.83,404.55 326.13,407.71 329.43,397.90 332.72,400.06 336.01,396.93 339.31,397.06 342.61,398.77 345.90,390.39 349.19,393.54 352.49,396.04 355.79,398.75 359.08,397.82 362.38,396.41 365.67,398.45 368.97,396.67 372.26,399.42 375.56,401.34 378.85,399.79 382.14,402.07 385.44,401.53 388.74,401.63 392.03,398.77 395.32,394.61 398.62,393.31 401.92,394.19 405.21,399.76 408.50,399.79 411.80,398.91 415.10,399.19 418.39,407.03 421.69,404.06 424.98,408.49 428.27,410.56 431.57,409.94 434.87,408.36 438.16,408.76 441.45,412.98 444.75,413.43 448.05,413.84 451.34,415.96 454.63,415.63 457.93,418.83 461.23,425.35 464.52,418.00 467.81,419.90 471.11,416.48 474.41,419.40 477.70,416.96 481.00,409.69 484.29,409.32 487.58,411.38 490.88,416.44 494.18,422.42 497.47,423.11 500.76,416.92 504.06,421.16 507.36,418.04 510.65,413.40 513.94,414.13 517.24,415.01 520.53,412.97 523.83,408.45 527.12,403.65 530.42,394.69 533.71,394.12 537.01,397.03 540.30,397.28 543.60,391.86 546.89,391.03 550.19,389.09 553.49,391.26 556.78,396.97 560.07,398.60 563.37,397.65 566.66,392.94 569.96,393.04 573.25,392.35 576.55,397.63 579.85,399.59 583.14,404.65 586.43,402.63 589.73,412.35 593.02,413.94 596.32,418.54 599.61,424.06 602.91,418.32 606.20,419.47 609.50,404.92 612.79,406.34 616.09,406.20 619.38,409.96 622.68,408.62 625.97,406.07 629.27,409.44 632.56,411.38 635.86,408.36 639.15,407.06 642.45,409.03 645.74,406.63 649.04,407.58 652.33,402.57 655.63,404.25 658.92,397.13 662.22,396.96 665.51,396.82 668.81,400.42 672.10,408.03 675.40,408.88 678.69,408.12 681.99,408.51 685.28,408.87 688.58,412.64 691.87,407.36 695.17,410.94 698.46,409.63 701.76,413.29 705.05,417.29 708.35,416.84 711.64,414.48 714.94,408.00 718.23,406.41 721.53,407.10 724.82,404.92 728.12,398.91 731.41,400.31 734.71,402.86 738.00,405.30 741.30,400.01 744.59,396.73 747.89,394.28 751.18,393.79 754.48,393.47 757.77,392.96 761.07,393.80 764.36,391.64 767.66,396.03 770.95,391.37 774.25,390.11 777.54,389.89 780.84,391.17 784.13,400.18 787.43,407.68 790.72,408.25 794.02,408.01 797.31,403.51 800.61,403.68 803.90,401.12 807.20,403.32 810.49,403.54 813.79,408.73 817.08,409.67 820.38,401.71 823.67,399.71 826.97,400.91 830.26,392.31 833.56,390.25 836.85,388.97 840.15,390.06 843.44,387.99 846.74,388.13 850.03,386.77 853.33,394.25 856.62,394.17 859.92,397.53 863.21,393.12 866.51,399.23 869.80,398.17 873.10,395.48 876.39,390.71 879.69,385.59 882.98,387.12 886.28,394.82 889.57,393.40 889.57,387.35" fill="url(#gg)"/></g>
<polyline points="6.52,403.51 9.81,401.92 13.11,400.54 16.40,399.12 19.70,397.59 22.99,396.18 26.28,394.74 29.58,392.96 32.88,391.30 36.17,389.66 39.46,388.18 42.76,386.49 46.05,384.99 49.35,383.55 52.64,382.76 55.94,382.47 59.23,382.85 62.53,383.12 65.82,383.47 69.12,383.55 72.41,383.26 75.71,382.86 79.00,382.87 82.30,382.81 85.59,382.63 88.89,382.44 92.19,381.82 95.48,382.28 98.78,382.30 102.07,382.02 105.36,381.38 108.66,380.93 111.95,380.45 115.25,380.27 118.54,380.53 121.84,381.04 125.13,381.53 128.43,382.48 131.72,384.00 135.02,385.28 138.31,386.95 141.61,388.31 144.91,389.28 148.20,390.54 151.50,392.07 154.79,393.59 158.08,394.84 161.38,396.07 164.68,397.13 167.97,398.37 171.26,399.12 174.56,399.62 177.85,399.47 181.15,399.47 184.44,399.60 187.74,399.56 191.03,400.04 194.33,399.97 197.62,399.83 200.92,399.57 204.21,399.58 207.51,399.56 210.81,399.91 214.10,400.01 217.39,400.33 220.69,400.91 223.99,401.82 227.28,402.67 230.57,403.51 233.87,403.77 237.17,404.36 240.46,404.94 243.75,405.38 247.05,405.79 250.34,406.25 253.64,406.70 256.94,406.85 260.23,407.47 263.52,407.98 266.82,408.18 270.12,408.08 273.41,408.26 276.70,408.06 280.00,408.37 283.30,408.70 286.59,409.18 289.88,409.03 293.18,408.89 296.47,408.73 299.77,408.98 303.06,409.29 306.36,409.47 309.65,409.32 312.95,409.43 316.25,409.47 319.54,409.35 322.83,409.10 326.13,408.61 329.43,407.15 332.72,406.00 336.01,405.30 339.31,404.77 342.61,404.37 345.90,403.25 349.19,402.23 352.49,401.21 355.79,400.74 359.08,399.86 362.38,398.88 365.67,398.17 368.97,397.61 372.26,397.01 375.56,397.26 378.85,397.24 382.14,397.61 385.44,397.93 388.74,398.13 392.03,398.73 395.32,398.81 398.62,398.61 401.92,398.29 405.21,398.42 408.50,398.67 411.80,398.70 415.10,398.88 418.39,399.42 421.69,399.62 424.98,400.24 428.27,400.84 431.57,401.44 434.87,401.93 438.16,402.64 441.45,403.95 444.75,405.39 448.05,406.79 451.34,407.95 454.63,409.08 457.93,410.50 461.23,412.37 464.52,413.16 467.81,414.29 471.11,414.86 474.41,415.49 477.70,415.99 481.00,416.09 484.29,416.13 487.58,416.01 490.88,416.23 494.18,416.84 497.47,417.35 500.76,417.44 504.06,417.61 507.36,417.09 510.65,416.76 513.94,416.35 517.24,416.24 520.53,415.78 523.83,415.17 527.12,414.74 530.42,413.70 533.71,412.46 537.01,411.08 540.30,409.28 543.60,407.05 546.89,405.20 550.19,402.91 553.49,401.00 556.78,399.82 560.07,398.71 563.37,397.47 566.66,396.04 569.96,394.94 573.25,394.13 576.55,394.34 579.85,394.74 583.14,395.28 586.43,395.66 589.73,397.13 593.02,398.76 596.32,400.87 599.61,403.21 602.91,404.73 606.20,406.23 609.50,406.75 612.79,407.70 616.09,408.64 619.38,409.90 622.68,410.69 625.97,411.15 629.27,411.49 632.56,412.11 635.86,411.83 639.15,411.34 642.45,410.66 645.74,409.41 649.04,408.65 652.33,407.44 655.63,407.39 658.92,406.73 662.22,406.07 665.51,405.14 668.81,404.55 672.10,404.69 675.40,404.65 678.69,404.42 681.99,404.43 685.28,404.56 688.58,404.82 691.87,404.87 695.17,405.11 698.46,405.61 701.76,406.26 705.05,407.70 708.35,409.12 711.64,410.38 714.94,410.92 718.23,410.80 721.53,410.68 724.82,410.45 728.12,409.76 731.41,409.15 734.71,408.45 738.00,408.31 741.30,407.53 744.59,406.60 747.89,405.25 751.18,403.57 754.48,401.90 757.77,400.36 761.07,399.35 764.36,398.29 767.66,397.50 770.95,396.53 774.25,395.90 777.54,395.16 780.84,394.33 784.13,393.96 787.43,394.51 790.72,395.33 794.02,396.31 797.31,397.01 800.61,397.73 803.90,398.32 807.20,399.00 810.49,399.85 813.79,400.75 817.08,402.06 820.38,402.89 823.67,403.59 826.97,404.29 830.26,403.73 833.56,402.48 836.85,401.10 840.15,399.82 843.44,398.71 846.74,397.60 850.03,396.58 853.33,395.93 856.62,395.26 859.92,394.46 863.21,393.28 866.51,393.10 869.80,392.99 873.10,392.60 876.39,392.49 879.69,392.16 882.98,392.02 886.28,392.36 889.57,392.75" fill="none" stroke="#fbe04a" stroke-width="1" stroke-linejoin="round"/>
<polyline points="6.52,396.17 9.81,392.42 13.11,387.09 16.40,385.49 19.70,384.20 22.99,380.94 26.28,382.21 29.58,378.58 32.88,378.43 36.17,378.11 39.46,381.49 42.76,380.50 46.05,382.59 49.35,381.48 52.64,385.04 55.94,388.45 59.23,392.34 62.53,389.38 65.82,389.06 69.12,382.07 72.41,378.08 75.71,372.99 79.00,378.56 82.30,377.31 85.59,379.00 88.89,377.86 92.19,373.86 95.48,387.89 98.78,385.30 102.07,384.59 105.36,383.30 108.66,383.10 111.95,382.38 115.25,379.52 118.54,381.73 121.84,380.16 125.13,385.39 128.43,390.69 131.72,400.23 135.02,395.72 138.31,397.26 141.61,407.04 144.91,398.88 148.20,402.24 151.50,404.60 154.79,404.39 158.08,399.95 161.38,396.66 164.68,396.55 167.97,397.63 171.26,395.79 174.56,397.72 177.85,398.12 181.15,395.71 184.44,399.12 187.74,406.55 191.03,405.50 194.33,401.34 197.62,402.60 200.92,400.77 204.21,400.09 207.51,396.38 210.81,401.38 214.10,399.04 217.39,400.28 220.69,405.82 223.99,410.89 227.28,407.64 230.57,410.94 233.87,410.14 237.17,413.74 240.46,409.45 243.75,408.77 247.05,406.50 250.34,406.50 253.64,402.68 256.94,403.52 260.23,407.71 263.52,407.37 266.82,408.68 270.12,409.50 273.41,410.14 276.70,408.11 280.00,414.48 283.30,418.36 286.59,416.23 289.88,406.67 293.18,404.53 296.47,404.29 299.77,406.08 303.06,407.90 306.36,410.22 309.65,405.37 312.95,410.14 316.25,410.14 319.54,408.40 322.83,404.55 326.13,407.71 329.43,397.90 332.72,400.06 336.01,396.93 339.31,397.06 342.61,398.77 345.90,390.39 349.19,393.54 352.49,396.04 355.79,398.75 359.08,397.82 362.38,396.41 365.67,398.45 368.97,396.67 372.26,399.42 375.56,401.34 378.85,399.79 382.14,402.07 385.44,401.53 388.74,401.63 392.03,398.77 395.32,394.61 398.62,393.31 401.92,394.19 405.21,399.76 408.50,399.79 411.80,398.91 415.10,399.19 418.39,407.03 421.69,404.06 424.98,408.49 428.27,410.56 431.57,409.94 434.87,408.36 438.16,408.76 441.45,412.98 444.75,413.43 448.05,413.84 451.34,415.96 454.63,415.63 457.93,418.83 461.23,425.35 464.52,418.00 467.81,419.90 471.11,416.48 474.41,419.40 477.70,416.96 481.00,409.69 484.29,409.32 487.58,411.38 490.88,416.44 494.18,422.42 497.47,423.11 500.76,416.92 504.06,421.16 507.36,418.04 510.65,413.40 513.94,414.13 517.24,415.01 520.53,412.97 523.83,408.45 527.12,403.65 530.42,394.69 533.71,394.12 537.01,397.03 540.30,397.28 543.60,391.86 546.89,391.03 550.19,389.09 553.49,391.26 556.78,396.97 560.07,398.60 563.37,397.65 566.66,392.94 569.96,393.04 573.25,392.35 576.55,397.63 579.85,399.59 583.14,404.65 586.43,402.63 589.73,412.35 593.02,413.94 596.32,418.54 599.61,424.06 602.91,418.32 606.20,419.47 609.50,404.92 612.79,406.34 616.09,406.20 619.38,409.96 622.68,408.62 625.97,406.07 629.27,409.44 632.56,411.38 635.86,408.36 639.15,407.06 642.45,409.03 645.74,406.63 649.04,407.58 652.33,402.57 655.63,404.25 658.92,397.13 662.22,396.96 665.51,396.82 668.81,400.42 672.10,408.03 675.40,408.88 678.69,408.12 681.99,408.51 685.28,408.87 688.58,412.64 691.87,407.36 695.17,410.94 698.46,409.63 701.76,413.29 705.05,417.29 708.35,416.84 711.64,414.48 714.94,408.00 718.23,406.41 721.53,407.10 724.82,404.92 728.12,398.91 731.41,400.31 734.71,402.86 738.00,405.30 741.30,400.01 744.59,396.73 747.89,394.28 751.18,393.79 754.48,393.47 757.77,392.96 761.07,393.80 764.36,391.64 767.66,396.03 770.95,391.37 774.25,390.11 777.54,389.89 780.84,391.17 784.13,400.18 787.43,407.68 790.72,408.25 794.02,408.01 797.31,403.51 800.61,403.68 803.90,401.12 807.20,403.32 810.49,403.54 813.79,408.73 817.08,409.67 820.38,401.71 823.67,399.71 826.97,400.91 830.26,392.31 833.56,390.25 836.85,388.97 840.15,390.06 843.44,387.99 846.74,388.13 850.03,386.77 853.33,394.25 856.62,394.17 859.92,397.53 863.21,393.12 866.51,399.23 869.80,398.17 873.10,395.48 876.39,390.71 879.69,385.59 882.98,387.12 886.28,394.82 889.57,393.40" fill="none" stroke="#7e57c2" stroke-width="0.9" stroke-linejoin="round"/>
</g>
<path d="M969.60 18.5V448.0" stroke="#4a4d57" stroke-width="0.7"/>
<path d="M6.5 428.50H1017.5" stroke="#4a4d57" stroke-width="0.85"/>
<text x="7.00" y="13.50" font-size="8.60" fill="#2a2e39" text-anchor="start" font-weight="normal" textLength="268.5" lengthAdjust="spacingAndGlyphs" stroke="#2a2e39" stroke-width="0.12">Jake_Simmons published on TradingView.com, Nov 01, 2024 14:03 UTC</text>
<text x="12.50" y="33.00" font-size="8.90" fill="#363a45" text-anchor="start" font-weight="normal" textLength="125.5" lengthAdjust="spacingAndGlyphs" stroke="#363a45" stroke-width="0.12">Bitcoin / TetherUS, 1D, BINANCE</text>
<text x="144.50" y="33.00" font-size="8.90" fill="#363a45" text-anchor="start" font-weight="normal" stroke="#363a45" stroke-width="0.12">O</text>
<text x="191.80" y="33.00" font-size="8.90" fill="#363a45" text-anchor="start" font-weight="normal" stroke="#363a45" stroke-width="0.12">H</text>
<text x="238.90" y="33.00" font-size="8.90" fill="#363a45" text-anchor="start" font-weight="normal" stroke="#363a45" stroke-width="0.12">L</text>
<text x="284.00" y="33.00" font-size="8.90" fill="#363a45" text-anchor="start" font-weight="normal" stroke="#363a45" stroke-width="0.12">C</text>
<text x="150.70" y="33.00" font-size="8.90" fill="#8c8f99" text-anchor="start" font-weight="normal" textLength="35.2" lengthAdjust="spacingAndGlyphs" stroke="#8c8f99" stroke-width="0.10">70,292.01</text>
<text x="197.60" y="33.00" font-size="8.90" fill="#8c8f99" text-anchor="start" font-weight="normal" textLength="35.2" lengthAdjust="spacingAndGlyphs" stroke="#8c8f99" stroke-width="0.10">71,220.00</text>
<text x="243.30" y="33.00" font-size="8.90" fill="#8c8f99" text-anchor="start" font-weight="normal" textLength="35.2" lengthAdjust="spacingAndGlyphs" stroke="#8c8f99" stroke-width="0.10">68,830.00</text>
<text x="289.80" y="33.00" font-size="8.90" fill="#8c8f99" text-anchor="start" font-weight="normal" textLength="35.2" lengthAdjust="spacingAndGlyphs" stroke="#8c8f99" stroke-width="0.10">70,949.13</text>
<text x="330.00" y="33.00" font-size="8.90" fill="#8c8f99" text-anchor="start" font-weight="normal" textLength="61.3" lengthAdjust="spacingAndGlyphs" stroke="#8c8f99" stroke-width="0.10">+657.12 (+0.93%)</text>
<text x="12.50" y="44.60" font-size="8.90" fill="#363a45" text-anchor="start" font-weight="normal" textLength="34.5" lengthAdjust="spacingAndGlyphs" stroke="#363a45" stroke-width="0.12">Vol · BTC</text>
<text x="52.50" y="44.60" font-size="8.90" fill="#26a69a" text-anchor="start" font-weight="normal" textLength="30.5" lengthAdjust="spacingAndGlyphs" stroke="#26a69a" stroke-width="0.18">20.137 K</text>
<text x="12.50" y="56.25" font-size="8.90" fill="#363a45" text-anchor="start" font-weight="normal" textLength="73.5" lengthAdjust="spacingAndGlyphs" stroke="#363a45" stroke-width="0.12">EMA 20/50/100/200</text>
<text x="92.20" y="56.25" font-size="8.90" fill="#ff2a2a" text-anchor="start" font-weight="normal" textLength="35.0" lengthAdjust="spacingAndGlyphs" stroke="#ff2a2a" stroke-width="0.30">68,197.33</text>
<text x="132.80" y="56.25" font-size="8.90" fill="#ff8c1a" text-anchor="start" font-weight="normal" textLength="35.5" lengthAdjust="spacingAndGlyphs" stroke="#ff8c1a" stroke-width="0.30">65,429.22</text>
<text x="174.50" y="56.25" font-size="8.90" fill="#10e4fa" text-anchor="start" font-weight="normal" textLength="34.5" lengthAdjust="spacingAndGlyphs" stroke="#10e4fa" stroke-width="0.30">63,805.39</text>
<text x="215.00" y="56.25" font-size="8.90" fill="#1414ff" text-anchor="start" font-weight="normal" textLength="35.5" lengthAdjust="spacingAndGlyphs" stroke="#1414ff" stroke-width="0.30">61,570.43</text>
<text x="12.50" y="383.20" font-size="8.90" fill="#363a45" text-anchor="start" font-weight="normal" textLength="100.5" lengthAdjust="spacingAndGlyphs" stroke="#363a45" stroke-width="0.12">RSI (14, close, SMA, 14, 2)</text>
<text x="118.80" y="383.20" font-size="8.90" fill="#7e57c2" text-anchor="start" font-weight="normal" textLength="19.5" lengthAdjust="spacingAndGlyphs" stroke="#7e57c2" stroke-width="0.18">62.68</text>
<text x="144.30" y="383.20" font-size="8.90" fill="#ffd62e" text-anchor="start" font-weight="normal" textLength="19.5" lengthAdjust="spacingAndGlyphs" stroke="#ffd62e" stroke-width="0.18">63.50</text>
<g stroke="#2a2e39" stroke-width="0.75" fill="none"><circle cx="173.10" cy="380.2" r="2.85"/><path d="M170.20 383.9L176.00 376.5"/></g>
<g stroke="#2a2e39" stroke-width="0.75" fill="none"><circle cx="186.88" cy="380.2" r="2.85"/><path d="M183.98 383.9L189.78 376.5"/></g>
<g stroke="#2a2e39" stroke-width="0.75" fill="none"><circle cx="200.66" cy="380.2" r="2.85"/><path d="M197.76 383.9L203.56 376.5"/></g>
<g stroke="#2a2e39" stroke-width="0.75" fill="none"><circle cx="214.44" cy="380.2" r="2.85"/><path d="M211.54 383.9L217.34 376.5"/></g>
<g stroke="#2a2e39" stroke-width="0.75" fill="none"><circle cx="228.22" cy="380.2" r="2.85"/><path d="M225.32 383.9L231.12 376.5"/></g>
<g stroke="#2a2e39" stroke-width="0.75" fill="none"><circle cx="242.00" cy="380.2" r="2.85"/><path d="M239.10 383.9L244.90 376.5"/></g>
<text x="975.70" y="132.10" font-size="8.40" fill="#30333d" text-anchor="start" font-weight="normal" textLength="34.8" lengthAdjust="spacingAndGlyphs">66,000.00</text>
<text x="975.70" y="156.10" font-size="8.40" fill="#30333d" text-anchor="start" font-weight="normal" textLength="34.8" lengthAdjust="spacingAndGlyphs">64,000.00</text>
<text x="975.70" y="180.10" font-size="8.40" fill="#30333d" text-anchor="start" font-weight="normal" textLength="34.8" lengthAdjust="spacingAndGlyphs">62,000.00</text>
<text x="975.70" y="228.10" font-size="8.40" fill="#30333d" text-anchor="start" font-weight="normal" textLength="34.8" lengthAdjust="spacingAndGlyphs">58,000.00</text>
<text x="975.70" y="252.10" font-size="8.40" fill="#30333d" text-anchor="start" font-weight="normal" textLength="34.8" lengthAdjust="spacingAndGlyphs">56,000.00</text>
<text x="975.70" y="276.10" font-size="8.40" fill="#30333d" text-anchor="start" font-weight="normal" textLength="34.8" lengthAdjust="spacingAndGlyphs">54,000.00</text>
<text x="975.70" y="324.10" font-size="8.40" fill="#30333d" text-anchor="start" font-weight="normal" textLength="34.8" lengthAdjust="spacingAndGlyphs">50,000.00</text>
<text x="975.70" y="348.10" font-size="8.40" fill="#30333d" text-anchor="start" font-weight="normal" textLength="34.8" lengthAdjust="spacingAndGlyphs">48,000.00</text>
<text x="975.70" y="385.82" font-size="8.40" fill="#30333d" text-anchor="start" font-weight="normal" textLength="20.3" lengthAdjust="spacingAndGlyphs">75.00</text>
<text x="975.70" y="406.95" font-size="8.40" fill="#30333d" text-anchor="start" font-weight="normal" textLength="20.3" lengthAdjust="spacingAndGlyphs">50.00</text>
<text x="975.70" y="428.07" font-size="8.40" fill="#30333d" text-anchor="start" font-weight="normal" textLength="20.3" lengthAdjust="spacingAndGlyphs">25.00</text>
<path d="M969.20 51.64H1012.20a1.6 1.6 0 0 1 1.6 1.6V61.24a1.6 1.6 0 0 1 -1.6 1.6H969.20z" fill="#2962ff"/>
<text x="975.60" y="60.34" font-size="8.80" fill="#ffffff" text-anchor="start" font-weight="normal" textLength="34.6" lengthAdjust="spacingAndGlyphs" stroke="#ffffff" stroke-width="0.12">72,021.95</text>
<path d="M969.20 97.63H1012.20a1.6 1.6 0 0 1 1.6 1.6V107.23a1.6 1.6 0 0 1 -1.6 1.6H969.20z" fill="#2962ff"/>
<text x="975.60" y="106.33" font-size="8.80" fill="#ffffff" text-anchor="start" font-weight="normal" textLength="34.6" lengthAdjust="spacingAndGlyphs" stroke="#ffffff" stroke-width="0.12">68,188.86</text>
<path d="M969.20 195.53H1012.20a1.6 1.6 0 0 1 1.6 1.6V205.13a1.6 1.6 0 0 1 -1.6 1.6H969.20z" fill="#2962ff"/>
<text x="975.60" y="204.23" font-size="8.80" fill="#ffffff" text-anchor="start" font-weight="normal" textLength="34.6" lengthAdjust="spacingAndGlyphs" stroke="#ffffff" stroke-width="0.12">60,030.58</text>
<path d="M969.20 230.60H1012.20a1.6 1.6 0 0 1 1.6 1.6V240.20a1.6 1.6 0 0 1 -1.6 1.6H969.20z" fill="#2962ff"/>
<text x="975.60" y="239.30" font-size="8.80" fill="#ffffff" text-anchor="start" font-weight="normal" textLength="34.6" lengthAdjust="spacingAndGlyphs" stroke="#ffffff" stroke-width="0.12">57,108.03</text>
<path d="M969.20 288.23H1012.20a1.6 1.6 0 0 1 1.6 1.6V297.83a1.6 1.6 0 0 1 -1.6 1.6H969.20z" fill="#2962ff"/>
<text x="975.60" y="296.93" font-size="8.80" fill="#ffffff" text-anchor="start" font-weight="normal" textLength="34.6" lengthAdjust="spacingAndGlyphs" stroke="#ffffff" stroke-width="0.12">52,305.54</text>
<path d="M969.20 65.0H1012.2a1.6 1.6 0 0 1 1.6 1.6V83.0a1.6 1.6 0 0 1 -1.6 1.6H969.20z" fill="#26a69a"/>
<path d="M934.8 64.9H969.20V75.8H934.8a1.6 1.6 0 0 1 -1.6 -1.6V66.5a1.6 1.6 0 0 1 1.6 -1.6z" fill="#26a69a"/>
<text x="935.70" y="73.40" font-size="8.70" fill="#ffffff" text-anchor="start" font-weight="normal" textLength="30.2" lengthAdjust="spacingAndGlyphs" stroke="#ffffff" stroke-width="0.12">BTCUSDT</text>
<text x="975.60" y="73.20" font-size="8.80" fill="#ffffff" text-anchor="start" font-weight="normal" textLength="34.6" lengthAdjust="spacingAndGlyphs" stroke="#ffffff" stroke-width="0.12">70,949.13</text>
<text x="975.60" y="81.90" font-size="8.80" fill="#ffffff" text-anchor="start" font-weight="normal" textLength="30.5" lengthAdjust="spacingAndGlyphs" fill-opacity="0.75">09:56:13</text>
<rect x="972.2" y="21.6" width="41.8" height="17.8" rx="3" fill="#fff" stroke="#eef0f5" stroke-width="1"/>
<text x="979.00" y="33.50" font-size="8.40" fill="#131722" text-anchor="start" font-weight="normal" textLength="17.5" lengthAdjust="spacingAndGlyphs" stroke="#131722" stroke-width="0.10">USDT</text>
<text x="82.30" y="441.20" font-size="8.00" fill="#131722" text-anchor="middle" font-weight="normal" stroke="#131722" stroke-width="0.18">Mar</text>
<text x="184.44" y="441.20" font-size="8.00" fill="#131722" text-anchor="middle" font-weight="normal" stroke="#131722" stroke-width="0.18">Apr</text>
<text x="283.30" y="441.20" font-size="8.00" fill="#131722" text-anchor="middle" font-weight="normal" stroke="#131722" stroke-width="0.18">May</text>
<text x="385.44" y="441.20" font-size="8.00" fill="#131722" text-anchor="middle" font-weight="normal" stroke="#131722" stroke-width="0.18">Jun</text>
<text x="484.29" y="441.20" font-size="8.00" fill="#131722" text-anchor="middle" font-weight="normal" stroke="#131722" stroke-width="0.18">Jul</text>
<text x="586.43" y="441.20" font-size="8.00" fill="#131722" text-anchor="middle" font-weight="normal" stroke="#131722" stroke-width="0.18">Aug</text>
<text x="688.58" y="441.20" font-size="8.00" fill="#131722" text-anchor="middle" font-weight="normal" stroke="#131722" stroke-width="0.18">Sep</text>
<text x="787.43" y="441.20" font-size="8.00" fill="#131722" text-anchor="middle" font-weight="normal" stroke="#131722" stroke-width="0.18">Oct</text>
<text x="889.57" y="441.20" font-size="8.00" fill="#131722" text-anchor="middle" font-weight="normal" stroke="#131722" stroke-width="0.18">Nov</text>
<text x="945.59" y="441.20" font-size="8.00" fill="#131722" text-anchor="middle" font-weight="normal" stroke="#131722" stroke-width="0.18">18</text>
<g fill="#131722"><path d="M7.0 457.0h5.4v6.8h-2.7v-4.1h-2.7z"/><circle cx="14.2" cy="458.35" r="1.35"/><path d="M17.2 457.0h3.1l-2.9 6.8h-3.1z"/></g>
<text x="23.20" y="463.90" font-size="9.60" fill="#131722" text-anchor="start" font-weight="normal" textLength="49.5" lengthAdjust="spacingAndGlyphs" stroke="#131722" stroke-width="0.18">TradingView</text>
</svg></body></html>
